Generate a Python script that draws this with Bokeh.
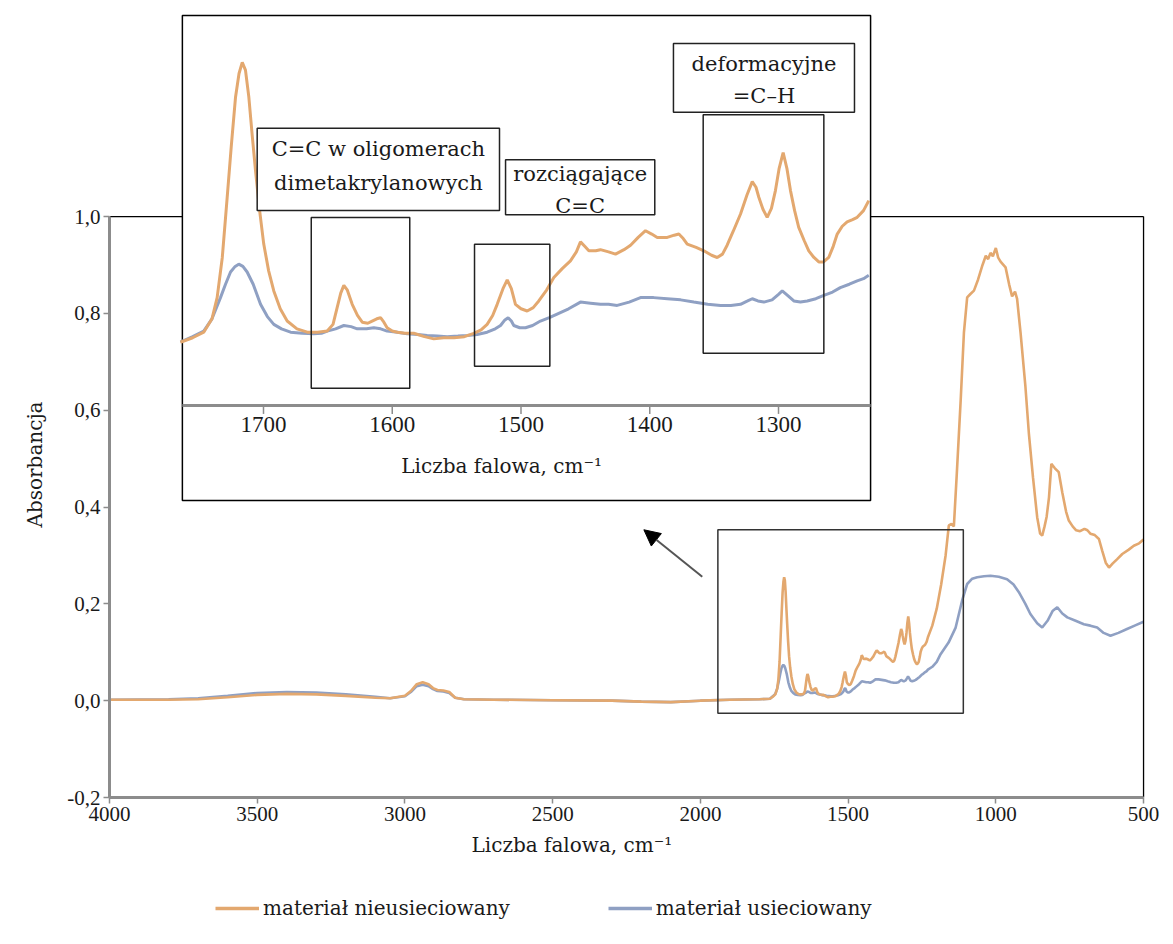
import numpy as np
from bokeh.plotting import figure
from bokeh.layouts import column
from bokeh.models import Range1d, FixedTicker, Legend, LegendItem, Arrow, NormalHead, Title
from bokeh.core.properties import value
from bokeh.embed import file_html
from bokeh.resources import INLINE

# ---------------- data ----------------
series_names = ["materiał nieusieciowany", "materiał usieciowany"]

wn_orange = [4000, 3800, 3700, 3600, 3500, 3400, 3300, 3200, 3100, 3050, 3000, 2980, 2960, 2940, 2920,
             2905, 2890, 2870, 2850, 2830, 2800, 2700, 2500, 2300, 2200, 2100, 2000, 1900, 1800,
             1764.5, 1755, 1746.4, 1740, 1736, 1732, 1728.2, 1725, 1721.7, 1719, 1716.5, 1714, 1711.4,
             1708.8, 1706.2, 1703, 1699.8, 1696, 1692, 1687, 1681.6, 1674, 1666, 1658, 1650.5, 1646,
             1642.8, 1640, 1637.6, 1635, 1631.1, 1627, 1623.3, 1619, 1615.6, 1612, 1609.1, 1606.5, 1604,
             1600, 1596, 1590, 1583.3, 1575, 1567.7, 1560, 1552, 1544, 1536.7, 1531, 1526.3, 1522,
             1518.5, 1514, 1510.7, 1507.5, 1504.3, 1500, 1495.2, 1490.5, 1486.2, 1480, 1474.5, 1468,
             1461.6, 1457, 1453.8, 1450.5, 1447.3, 1442, 1438.3, 1432, 1426.6, 1420, 1414.9, 1409,
             1403.3, 1398.5, 1394.2, 1390, 1386.4, 1381, 1377.4, 1374, 1370.9, 1364, 1358, 1352, 1347.6,
             1343.5, 1339.9, 1335, 1329.5, 1324.5, 1320.4, 1317.5, 1315.3, 1312, 1308.8, 1305.5, 1302.4,
             1299.5, 1296.4, 1293.5, 1290.7, 1287.5, 1284.3, 1280, 1276.5, 1272.5, 1268.7, 1265, 1261,
             1257.5, 1254.4, 1250.5, 1246.7, 1242.5, 1238.9, 1234, 1229.9,
             1215, 1200, 1185, 1170, 1159, 1150, 1142, 1132, 1119, 1108, 1097, 1086, 1074, 1060, 1045,
             1034, 1026, 1018, 1010, 1000, 992, 984, 967, 955, 945, 935, 928, 916, 900, 888, 874, 860,
             850, 843, 835, 828, 820, 812, 800, 787, 775, 762, 753, 740, 728, 715, 700, 690, 680, 665,
             651, 640, 628, 617, 605, 590, 572, 550, 533, 515, 500]
abs_orange = [0.002, 0.002, 0.003, 0.007, 0.012, 0.014, 0.013, 0.010, 0.006, 0.005, 0.010, 0.020, 0.034, 0.038, 0.034,
              0.026, 0.022, 0.021, 0.018, 0.006, 0.003, 0.002, 0.001, 0.000, -0.002, -0.003, 0.000, 0.002, 0.003,
              0.004, 0.008, 0.013, 0.025, 0.044, 0.080, 0.134, 0.180, 0.224, 0.245, 0.255, 0.248, 0.224,
              0.190, 0.158, 0.122, 0.092, 0.068, 0.050, 0.034, 0.023, 0.016, 0.013, 0.013, 0.014, 0.020,
              0.035, 0.048, 0.055, 0.051, 0.038, 0.028, 0.022, 0.021, 0.023, 0.025, 0.026, 0.022, 0.017,
              0.014, 0.013, 0.012, 0.012, 0.009, 0.007, 0.008, 0.008, 0.009, 0.012, 0.015, 0.020, 0.028,
              0.038, 0.052, 0.060, 0.052, 0.038, 0.034, 0.032, 0.035, 0.041, 0.051, 0.062, 0.070,
              0.077, 0.085, 0.094, 0.090, 0.086, 0.086, 0.087, 0.085, 0.083, 0.087, 0.091, 0.098,
              0.104, 0.101, 0.098, 0.098, 0.098, 0.100, 0.101, 0.097, 0.092, 0.089, 0.086, 0.082, 0.080,
              0.083, 0.091, 0.104, 0.119, 0.136, 0.148, 0.143, 0.134, 0.123, 0.116, 0.124, 0.140,
              0.160, 0.174, 0.160, 0.140, 0.122, 0.107, 0.095, 0.086, 0.080, 0.076, 0.076, 0.080,
              0.090, 0.101, 0.108, 0.112, 0.114, 0.116, 0.122, 0.131,
              0.155, 0.190, 0.240, 0.300, 0.362, 0.365, 0.360, 0.470, 0.620, 0.760, 0.833, 0.840, 0.847, 0.870, 0.900,
              0.919, 0.912, 0.925, 0.918, 0.935, 0.915, 0.907, 0.895, 0.860, 0.835, 0.845, 0.830, 0.758, 0.650, 0.551, 0.460, 0.379,
              0.345, 0.341, 0.360, 0.380, 0.420, 0.489, 0.480, 0.472, 0.430, 0.390, 0.372, 0.360, 0.352, 0.350, 0.355, 0.352, 0.345, 0.342,
              0.334, 0.310, 0.285, 0.275, 0.283, 0.292, 0.303, 0.312, 0.320, 0.325, 0.333]

wn_blue = [4000, 3800, 3700, 3600, 3500, 3400, 3300, 3200, 3100, 3050, 3000, 2980, 2960, 2940, 2920,
           2905, 2890, 2870, 2850, 2830, 2800, 2700, 2500, 2300, 2200, 2100, 2000, 1900, 1800,
           1764.5, 1755, 1746.4, 1740, 1733.4, 1729.5, 1725.6, 1722, 1719.2, 1716, 1712.7, 1708, 1702.3,
           1697, 1692, 1686, 1679, 1670, 1660.9, 1655, 1650.5, 1644, 1637.6, 1632, 1627.2, 1620, 1614.3,
           1609, 1604, 1596, 1588.4, 1580, 1572.9, 1565, 1557.3, 1549, 1541.8, 1534, 1526.3, 1520,
           1515.9, 1512.5, 1510, 1507.5, 1505.6, 1501, 1496.5, 1491, 1484.9, 1478, 1472.4, 1463, 1453.8,
           1446, 1438.3, 1432, 1425.3, 1416, 1407.2, 1397, 1386.4, 1376, 1365.8, 1355, 1345, 1337,
           1329.5, 1324, 1320.4, 1316, 1311.4, 1305, 1300, 1297.1, 1293, 1288.1, 1283, 1277.7, 1271,
           1264.8, 1258, 1252, 1245, 1238.9, 1234, 1229.9,
           1215, 1200, 1187, 1160, 1136, 1114, 1097, 1080, 1063, 1040, 1018, 990, 962, 940, 922, 900,
           883, 860, 843, 825, 808, 792, 775, 758, 730, 702, 680, 657, 635, 612, 585, 556, 530, 500]
abs_blue = [0.002, 0.003, 0.005, 0.010, 0.016, 0.018, 0.017, 0.013, 0.008, 0.005, 0.009, 0.018, 0.030, 0.033, 0.030,
            0.024, 0.020, 0.019, 0.016, 0.006, 0.003, 0.002, 0.001, 0.000, -0.002, -0.003, 0.000, 0.002, 0.003,
            0.004, 0.009, 0.014, 0.025, 0.044, 0.056, 0.067, 0.072, 0.074, 0.072, 0.067, 0.056, 0.038,
            0.027, 0.020, 0.016, 0.013, 0.012, 0.0115, 0.012, 0.014, 0.016, 0.019, 0.018, 0.016, 0.016, 0.017,
            0.016, 0.014, 0.013, 0.0115, 0.011, 0.010, 0.0095, 0.009, 0.0095, 0.010, 0.011, 0.013, 0.016,
            0.019, 0.024, 0.026, 0.023, 0.019, 0.017, 0.017, 0.019, 0.023, 0.026, 0.029, 0.034, 0.040,
            0.039, 0.038, 0.038, 0.037, 0.040, 0.044, 0.044, 0.043, 0.042, 0.040, 0.038, 0.037, 0.037,
            0.038, 0.041, 0.043, 0.041, 0.040, 0.042, 0.047, 0.050, 0.046, 0.041, 0.040, 0.041, 0.043,
            0.046, 0.049, 0.053, 0.056, 0.059, 0.061, 0.064,
            0.070, 0.080, 0.096, 0.120, 0.151, 0.207, 0.241, 0.252, 0.255, 0.257, 0.258, 0.256, 0.251, 0.240, 0.224, 0.200,
            0.179, 0.160, 0.151, 0.165, 0.185, 0.193, 0.180, 0.172, 0.165, 0.158, 0.155, 0.151, 0.140, 0.134, 0.140, 0.148, 0.155, 0.163]

x_ticks = [4000, 3500, 3000, 2500, 2000, 1500, 1000, 500]
x_tick_labels = ["4000", "3500", "3000", "2500", "2000", "1500", "1000", "500"]
y_ticks = [-0.2, 0.0, 0.2, 0.4, 0.6, 0.8, 1.0]
y_tick_labels = ["-0,2", "0,0", "0,2", "0,4", "0,6", "0,8", "1,0"]
inset_ticks = [1700, 1600, 1500, 1400, 1300]
inset_tick_labels = ["1700", "1600", "1500", "1400", "1300"]
x_title = "Liczba falowa, cm\u207b\u00b9"
y_title = "Absorbancja"

# inset window (wavenumber span shown in the magnified view)
inset_wn = (1763.0, 1228.5)
# highlighted bands inside the inset: (wn_left, wn_right, abs_bottom, abs_top)
bands = [(1662.9, 1586.4, -0.0373, 0.1158),
         (1536.1, 1477.6, -0.0175, 0.0919),
         (1358.5, 1264.8, -0.0059, 0.2080)]
# band descriptions: box (left, right, bottom, top), lines, line positions
notes = [((1704.9, 1516.7, 0.1221, 0.1960), ["C=C w oligomerach", "dimetakrylanowych"], [0.1777, 0.1470]),
         ((1512.0, 1396.1, 0.1183, 0.1676), ["rozciągające", "C=C"], [0.1550, 0.1262]),
         ((1381.6, 1241.0, 0.2103, 0.2719), ["deformacyjne", "=C\u2013H"], [0.2539, 0.2250])]

ORANGE = "#E3A86F"
BLUE = "#8FA0C3"
AXIS_GRAY = "#8c8c8c"
TXT = "#1a1a1a"
SERIF = "DejaVu Serif"
NUM = "Liberation Serif"

# ---------------- main figure ----------------
W, H = 1160, 872
p = figure(width=W, height=H, x_range=Range1d(4000, 490), y_range=Range1d(-0.2, 1.4256),
           output_backend="svg", toolbar_location=None,
           min_border_left=109, min_border_right=W - 1146, min_border_top=10, min_border_bottom=H - 797)
p.extra_x_ranges = {"ix": Range1d(1819.6, 1014.2)}
p.extra_y_ranges = {"iy": Range1d(-0.4043, 0.3015)}
p.outline_line_color = None
p.xgrid.visible = False
p.ygrid.visible = False
p.background_fill_color = "white"
p.border_fill_color = "white"

for ax, ticks, labels in ((p.xaxis[0], x_ticks, x_tick_labels), (p.yaxis[0], y_ticks, y_tick_labels)):
    ax.ticker = FixedTicker(ticks=ticks)
    ax.major_label_overrides = {t: l for t, l in zip(ticks, labels)}
    ax.axis_line_color = AXIS_GRAY
    ax.axis_line_width = 3
    ax.major_tick_line_color = AXIS_GRAY
    ax.major_tick_line_width = 1.5
    ax.major_tick_out = 6
    ax.major_tick_in = 0
    ax.minor_tick_line_color = None
    ax.major_label_text_font = NUM
    ax.major_label_text_font_size = "21px"
    ax.major_label_text_color = TXT
    ax.major_label_standoff = 3
p.xaxis.bounds = (x_ticks[0], x_ticks[-1])
p.yaxis.bounds = (y_ticks[0], y_ticks[-1])

# axis titles
p.add_layout(Title(text=x_title, align="left", offset=362, text_font=SERIF, text_font_size="20px",
                   text_font_style="normal", text_color=TXT, standoff=15), "below")
p.add_layout(Title(text=y_title, align="left", offset=270, text_font=SERIF, text_font_size="20px",
                   text_font_style="normal", text_color=TXT, standoff=36), "left")

# main curves
r_b = p.line(wn_blue, abs_blue, line_color=BLUE, line_width=2.6)
r_o = p.line(wn_orange, abs_orange, line_color=ORANGE, line_width=2.6)

# frame top / right borders
p.line([x_ticks[0], x_ticks[-1]], [y_ticks[-1], y_ticks[-1]], line_color="black", line_width=1.3)
p.line([x_ticks[-1], x_ticks[-1]], [y_ticks[0], y_ticks[-1]], line_color="black", line_width=1.3)

# zoomed window in the main plot + arrow
p.quad(left=[1940.8], right=[1110.0], bottom=[-0.026], top=[0.353], fill_alpha=0,
       line_color="#333333", line_width=1.5)
p.add_layout(Arrow(end=NormalHead(size=16, fill_color="black", line_color="black"),
                   x_start=1993.6, y_start=0.256, x_end=2191.3, y_end=0.353,
                   line_color="#555555", line_width=2))

# ---------------- inset ----------------
I = dict(x_range_name="ix", y_range_name="iy")
inset_bottom, inset_top = -0.138, 0.297
p.quad(left=[inset_wn[0]], right=[inset_wn[1]], bottom=[inset_bottom], top=[inset_top],
       fill_color="white", line_color="black", line_width=1.5, **I)

wb, ab = np.array(wn_blue), np.array(abs_blue)
wo, ao = np.array(wn_orange), np.array(abs_orange)
mb = (wb <= inset_wn[0] + 2) & (wb >= inset_wn[1])
mo = (wo <= inset_wn[0] + 2) & (wo >= inset_wn[1])
p.line(wb[mb], ab[mb], line_color=BLUE, line_width=3, **I)
p.line(wo[mo], ao[mo], line_color=ORANGE, line_width=3, **I)

inset_axis_y = -0.0528
p.segment(x0=[inset_wn[0]], x1=[inset_wn[1]], y0=[inset_axis_y], y1=[inset_axis_y],
          line_color=AXIS_GRAY, line_width=3, **I)
p.segment(x0=inset_ticks, x1=inset_ticks, y0=[inset_axis_y] * len(inset_ticks),
          y1=[inset_axis_y - 0.0075] * len(inset_ticks), line_color=AXIS_GRAY, line_width=1.5, **I)
p.text(x=inset_ticks, y=[-0.0700] * len(inset_ticks), text=inset_tick_labels,
       text_font=value(NUM), text_font_size="23px", text_color=TXT,
       text_align="center", text_baseline="middle", **I)
p.text(x=[1515.0], y=[-0.1066], text=[x_title], text_font=value(SERIF), text_font_size="20px",
       text_color=TXT, text_align="center", text_baseline="middle", **I)

for (l, r, b, t) in bands:
    p.quad(left=[l], right=[r], bottom=[b], top=[t], fill_alpha=0,
           line_color="#222222", line_width=1.5, **I)

for (l, r, b, t), lines, ys in notes:
    p.quad(left=[l], right=[r], bottom=[b], top=[t], fill_color="white",
           line_color="#222222", line_width=1.5, **I)
    cx = (l + r) / 2
    p.text(x=[cx] * len(lines), y=ys, text=lines, text_font=value(SERIF), text_font_size="21px",
           text_color=TXT, text_align="center", text_baseline="middle", **I)

# ---------------- legend strip ----------------
q = figure(width=W, height=62, x_range=Range1d(0, 1), y_range=Range1d(0, 1),
           output_backend="svg", toolbar_location=None, x_axis_location=None, y_axis_location=None,
           min_border=0)
q.outline_line_color = None
q.xgrid.visible = False
q.ygrid.visible = False
# same series, outside the strip's view: only their legend swatches show
g_o = q.line(wn_orange, abs_orange, line_color=ORANGE, line_width=3.5)
g_b = q.line(wn_blue, abs_blue, line_color=BLUE, line_width=3.5)
legend = Legend(items=[LegendItem(label=series_names[0], renderers=[g_o]),
                       LegendItem(label=series_names[1], renderers=[g_b])],
                location=(106, 14), orientation="horizontal",
                label_text_font=SERIF, label_text_font_size="20px", label_text_color=TXT,
                glyph_width=44, glyph_height=22, label_standoff=4, spacing=98,
                padding=0, margin=0, border_line_color=None, background_fill_alpha=0)
q.add_layout(legend)

layout = column(p, q, spacing=0)
open("out.html", "w").write(file_html(layout, INLINE))
